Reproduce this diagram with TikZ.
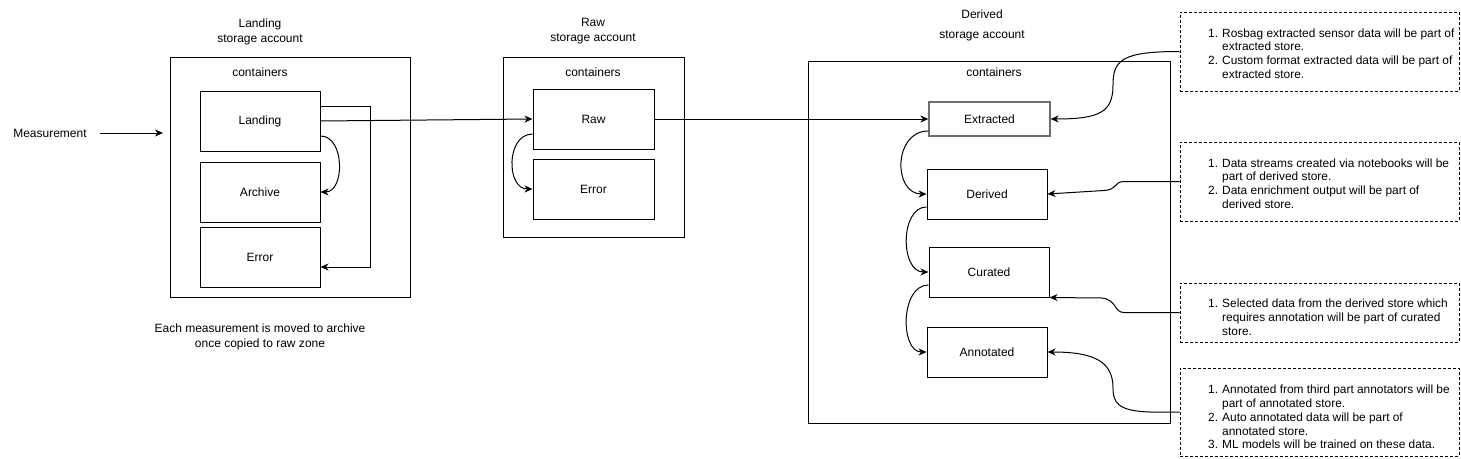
\documentclass[tikz,border=0pt]{standalone}
\usepackage{fontspec}
\setmainfont{Liberation Sans}
\usetikzlibrary{arrows.meta,calc}
\definecolor{grayline}{RGB}{110,110,110}
\begin{document}
\begin{tikzpicture}[x=1pt,y=-1pt,
  every node/.style={font=\fontsize{12}{15}\selectfont},
  acct/.style={draw, line width=1pt, minimum width=#1, inner sep=0pt},
  store/.style={draw, line width=1pt, inner sep=0pt, minimum width=120, minimum height=60},
  note/.style={draw, dashed, line width=0.8pt, dash pattern=on 3pt off 2pt, inner sep=0pt, minimum width=279},
  notetext/.style={anchor=west, inner sep=0pt, align=left, font=\fontsize{11.9}{13.8}\selectfont},
  lbl/.style={inner sep=0pt, align=center},
  arr/.style={line width=1pt, -{Stealth[length=8pt,width=7pt,inset=2.5pt]}},
]
\useasboundingbox (0,0) rectangle (1461,458);

% ---------- Landing account ----------
\node[lbl] (landtitle) at (260,31.5) {Landing\\storage account};
\node[acct=240, minimum height=240] (landacc) at (290,177) {};
\node[lbl] (landcont) at (260,72) {containers};
\node[store] (landing) at (260,121) {Landing};
\node[store] (archive) at (260,192) {Archive};
\node[store] (lerror) at (260,257.5) {Error};
\node[lbl] (meas) at (50,133) {Measurement};
\coordinate (measend) at (163,133);
\node[lbl] (note) at (260,336.5) {Each measurement is moved to archive\\once copied to raw zone};

% ---------- Raw account ----------
\node[lbl] (rawtitle) at (593,31.5) {Raw\\storage account};
\node[acct=181, minimum height=180] (rawacc) at (593.5,147) {};
\node[lbl] (rawcont) at (593,72) {containers};
\node[store, minimum width=121] (raw) at (593.5,119) {Raw};
\node[store, minimum width=121] (rerror) at (593.5,189) {Error};

% ---------- Derived account ----------
\node[lbl] (dertitle) at (982,25) {Derived\\[5pt]storage account};
\node[acct=362, minimum height=362] (deracc) at (989,242) {};
\node[lbl] (dercont) at (994,72) {containers};
\node[store, minimum width=121, minimum height=34, draw=grayline, line width=1.3pt] (extracted) at (989.5,119) {Extracted};
\node[store, minimum height=50] (derived) at (987,194) {Derived};
\node[store, minimum height=50] (curated) at (989,272) {Curated};
\node[store, minimum height=50] (annotated) at (987,352) {Annotated};

% ---------- Notes ----------
\node[note, minimum height=79] (note1) at (1319.5,51.5) {};
\node[notetext] (note1t) at (1208,55) {\begin{tabular}{@{}p{14pt}@{}l@{}}
1. & Rosbag extracted sensor data will be part of\\
   & extracted store.\\
2. & Custom format extracted data will be part of\\
   & extracted store.
\end{tabular}};
\node[note, minimum height=79] (note2) at (1319.5,181.5) {};
\node[notetext] (note2t) at (1208,185) {\begin{tabular}{@{}p{14pt}@{}l@{}}
1. & Data streams created via notebooks will be\\
   & part of derived store.\\
2. & Data enrichment output will be part of\\
   & derived store.
\end{tabular}};
\node[note, minimum height=59] (note3) at (1319.5,312.5) {};
\node[notetext] (note3t) at (1208,319) {\begin{tabular}{@{}p{14pt}@{}l@{}}
1. & Selected data from the derived store which\\
   & requires annotation will be part of curated\\
   & store.
\end{tabular}};
\node[note, minimum height=88] (note4) at (1319.5,412) {};
\node[notetext] (note4t) at (1208,418.5) {\begin{tabular}{@{}p{14pt}@{}l@{}}
1. & Annotated from third part annotators will be\\
   & part of annotated store.\\
2. & Auto annotated data will be part of\\
   & annotated store.\\
3. & ML models will be trained on these data.
\end{tabular}};

% ---------- Connectors ----------
\draw[arr] ([xshift=13pt]meas.east) -- (measend);
\draw[arr] (landing.east) -- (raw.west);
\draw[arr] ($(landing.east)+(0,-15)$) -- ++(50,0) |- ($(lerror.east)+(0,9.5)$);
\draw[arr] ($(landing.east)+(0,15)$) .. controls (345,136) and (345,192) .. (archive.east);
\draw[arr] ($(raw.west)+(0,15)$) .. controls (506,134) and (506,189) .. (rerror.west);
\draw[arr] (raw.east) -- (extracted.west);
\draw[arr] ($(extracted.west)+(0,12)$) .. controls (893,131) and (893,194) .. (derived.west);
\draw[arr] ($(derived.west)+(0,13)$) .. controls (900,207) and (900,272) .. (curated.west);
\draw[arr] ($(curated.west)+(0,13)$) .. controls (900,285) and (900,352) .. (annotated.west);

\draw[arr] (note1.west) .. controls (1122,51.5) and (1113,60) .. (1113,85)
   .. controls (1113,112) and (1100,119) .. (extracted.east);
\draw[arr] (note2.west) -- (1124,181.5) .. controls (1114,181.5) and (1117,190) .. (1104,190.5)
   -- (derived.east);
\draw[arr] (note3.west) -- (1124,312.5) .. controls (1114,312.5) and (1117,300) .. (1102,298)
   -- (curated.south east);
\draw[arr] (note4.west) -- (1150,412) .. controls (1117,411) and (1113,402) .. (1113,388)
   .. controls (1113,362) and (1095,352) .. (annotated.east);
\end{tikzpicture}
\end{document}
